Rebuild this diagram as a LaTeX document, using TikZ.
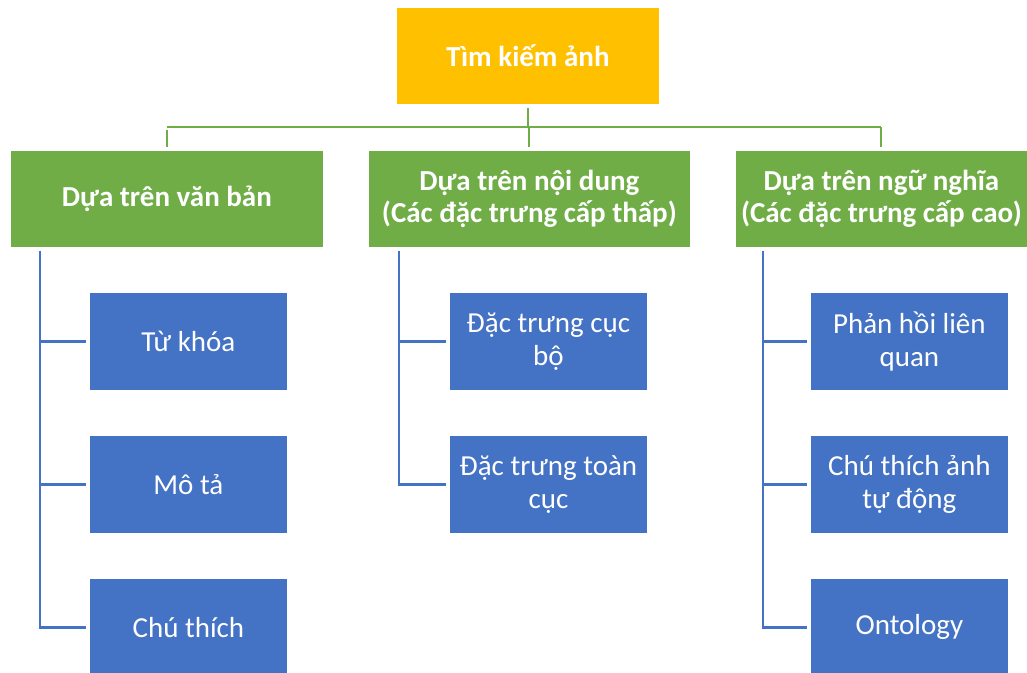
\documentclass[tikz,border=0pt]{standalone}
\usepackage{fontspec}
\setmainfont{Carlito}
\definecolor{rootfill}{HTML}{FFC000}
\definecolor{catfill}{HTML}{70AD47}
\definecolor{leaffill}{HTML}{4472C4}
\begin{document}
\begin{tikzpicture}[x=1pt,y=-1pt,
  box/.style={draw=white,line width=0.8pt,anchor=north west,inner sep=0pt,align=center,text=white},
  rootbox/.style={box,fill=rootfill,minimum height=97pt,font=\fontsize{29}{32}\selectfont\bfseries},
  catbox/.style={box,fill=catfill,minimum height=97pt,font=\fontsize{29}{32}\selectfont\bfseries},
  leafbox/.style={box,fill=leaffill,minimum width=198pt,minimum height=98pt,font=\fontsize{29}{33}\selectfont},
  bus/.style={draw=catfill,line width=2pt},
  branch/.style={draw=leaffill,line width=2.5pt,shorten >=3pt}]
\useasboundingbox (0,0) rectangle (1027,672);
\clip (0,0) rectangle (1027,672);

% root and the three approaches
\node[rootbox,minimum width=263pt] (root) at (396,7) {Tìm kiếm ảnh};
\node[catbox,minimum width=313pt] (catA) at (10,150) {Dựa trên văn bản};
\node[catbox,minimum width=322pt] (catB) at (368,150) {Dựa trên nội dung\\(Các đặc trưng cấp thấp)};
\node[catbox,minimum width=292pt] (catC) at (735,150) {Dựa trên ngữ nghĩa\\(Các đặc trưng cấp cao)};

% leaves
\node[leafbox] (leafA1) at (89,292) {Từ khóa};
\node[leafbox] (leafA2) at (89,435) {Mô tả};
\node[leafbox] (leafA3) at (89,578) {Chú thích};
\node[leafbox] (leafB1) at (449,292) {Đặc trưng cục\\bộ};
\node[leafbox] (leafB2) at (449,435) {Đặc trưng toàn\\cục};
\node[leafbox] (leafC1) at (810,292) {Phản hồi liên\\quan};
\node[leafbox] (leafC2) at (810,435) {Chú thích ảnh\\tự động};
\node[leafbox] (leafC3) at (810,578) {Ontology};

% green bus from the root to the approaches
\coordinate (busline) at (0,127);
\draw[bus,shorten <=3pt] (root.south) -- (root.south |- busline);
\draw[bus,shorten <=3pt,shorten >=3pt] (catA.north |- busline) -- (catA.north);
\draw[bus] (catA.north |- busline) -- (catC.north |- busline);
\draw[bus,shorten >=3pt] (catC.north |- busline) -- (catC.north);
\draw[bus,shorten >=3pt] (catB.north |- busline) -- (catB.north);

% blue spines to the leaves
\coordinate (spineA) at ([shift={(30pt,-3pt)}]catA.south west);
\coordinate (spineB) at ([shift={(31pt,-3pt)}]catB.south west);
\coordinate (spineC) at ([shift={(28pt,-3pt)}]catC.south west);
\draw[branch] (spineA) |- (leafA1.west);
\draw[branch] (spineA) |- (leafA2.west);
\draw[branch] (spineA) |- (leafA3.west);
\draw[branch] (spineB) |- (leafB1.west);
\draw[branch] (spineB) |- (leafB2.west);
\draw[branch] (spineC) |- (leafC1.west);
\draw[branch] (spineC) |- (leafC2.west);
\draw[branch] (spineC) |- (leafC3.west);
\end{tikzpicture}
\end{document}
